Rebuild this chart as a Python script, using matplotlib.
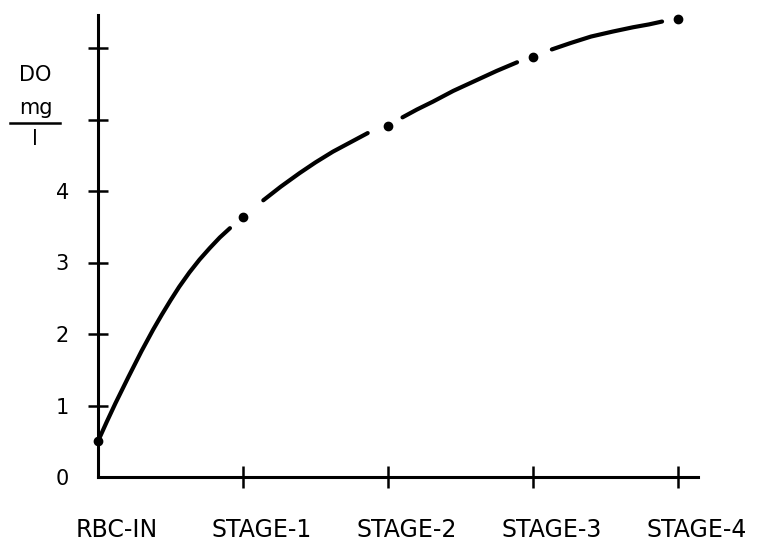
import matplotlib.pyplot as plt
from matplotlib.transforms import blended_transform_factory, ScaledTranslation

# Stage names and measured DO (mg/l) at each stage
stages = ["RBC-IN", "STAGE-1", "STAGE-2", "STAGE-3", "STAGE-4"]
stage_x = [0, 1, 2, 3, 4]
stage_do = [0.5, 3.64, 4.91, 5.87, 6.41]

# Readings along the drawn curve (broken into the dashes of the original)
seg0_x = [0.0, 0.06, 0.12, 0.21, 0.30, 0.38, 0.44, 0.50, 0.56, 0.63, 0.70, 0.77, 0.84, 0.91]
seg0_do = [0.5, 0.77, 1.03, 1.40, 1.76, 2.06, 2.27, 2.47, 2.66, 2.86, 3.04, 3.20, 3.35, 3.48]
seg1_x = [1.14, 1.26, 1.39, 1.50, 1.62, 1.74, 1.86]
seg1_do = [3.87, 4.06, 4.25, 4.40, 4.55, 4.68, 4.81]
seg2_x = [2.10, 2.20, 2.31, 2.45, 2.60, 2.75, 2.89]
seg2_do = [5.03, 5.14, 5.25, 5.40, 5.54, 5.68, 5.80]
seg3_x = [3.13, 3.26, 3.40, 3.55, 3.69, 3.80, 3.89]
seg3_do = [5.98, 6.07, 6.16, 6.23, 6.29, 6.33, 6.37]

y_ticks = [0, 1, 2, 3, 4, 5, 6]
y_labels = ["0", "1", "2", "3", "4", "", ""]

fig = plt.figure(figsize=(7.63, 5.5), dpi=100)
ax = fig.add_axes([98 / 763, 73 / 550, 600 / 763, 462 / 550])
ax.set_xlim(0, 600 / 145)
ax.set_ylim(0, 462 / 71.5)

# Curve pieces
for xs, ys in [(seg0_x, seg0_do), (seg1_x, seg1_do),
               (seg2_x, seg2_do), (seg3_x, seg3_do)]:
    ax.plot(xs, ys, color="black", linewidth=3.0,
            solid_capstyle="round", solid_joinstyle="round", clip_on=False)

# Dots at the stages
ax.plot(stage_x, stage_do, linestyle="none", marker="o",
        markersize=6, color="black", clip_on=False, zorder=5)

# Axes styling
for side in ["top", "right"]:
    ax.spines[side].set_visible(False)
for side in ["left", "bottom"]:
    ax.spines[side].set_linewidth(2.2)

ax.set_yticks(y_ticks)
ax.set_yticklabels(y_labels, fontsize=15)
ax.set_xticks(stage_x[1:])
ax.set_xticklabels([])
ax.tick_params(axis="y", direction="inout", length=14, width=1.8, pad=14)
ax.tick_params(axis="x", direction="inout", length=16, width=1.8)
ax.yaxis.get_major_ticks()[0].tick1line.set_visible(False)

# Stage labels under the axis, shifted a little to the right
trans = blended_transform_factory(ax.transData, ax.transAxes)
shift = ScaledTranslation(0.19, 0, fig.dpi_scale_trans)
for x, name in zip(stage_x, stages):
    ax.text(x, -0.115, name, transform=trans + shift,
            ha="center", va="center", fontsize=17)

# Y axis label: DO  mg / l
fig.text(35 / 763, 1 - 75 / 550, "DO", ha="center", va="center", fontsize=15)
fig.text(36 / 763, 1 - 108 / 550, "mg", ha="center", va="center", fontsize=15)
fig.add_artist(plt.Line2D([10 / 763, 60 / 763], [1 - 123 / 550, 1 - 123 / 550],
                          color="black", linewidth=1.8))
fig.text(35 / 763, 1 - 139 / 550, "l", ha="center", va="center", fontsize=15)

fig.savefig("out.png", dpi=100)
